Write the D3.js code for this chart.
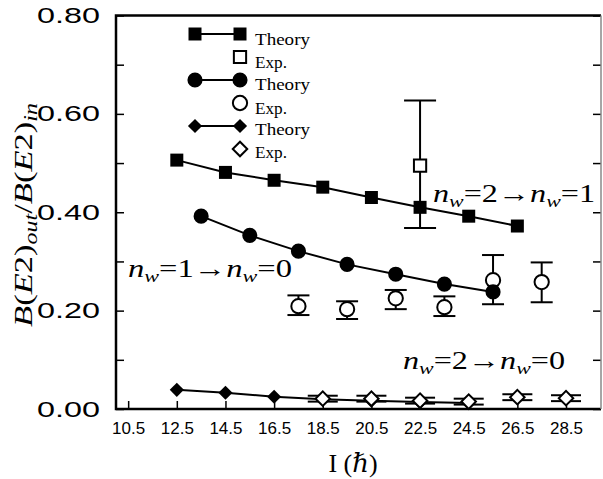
<!DOCTYPE html>
<html>
<head>
<meta charset="utf-8">
<script src="https://cdn.jsdelivr.net/npm/d3@7"></script>
<style>
  body { margin: 0; background: #fff; }
  svg { display: block; }
  .tick line { stroke: #000; stroke-width: 1.5; }
</style>
</head>
<body>
<div id="chart"></div>
<script>
// spins (hbar) and B(E2) ratios
const sqTheorySpin = [12.5, 14.5, 16.5, 18.5, 20.5, 22.5, 24.5, 26.5];
const sqTheory = [0.506, 0.481, 0.465, 0.451, 0.430, 0.410, 0.392, 0.372];
const sqExpSpin = [22.5];
const sqExp = [0.495];
const sqExpLo = [0.368];
const sqExpHi = [0.627];

const ciTheorySpin = [13.5, 15.5, 17.5, 19.5, 21.5, 23.5, 25.5];
const ciTheory = [0.392, 0.353, 0.321, 0.294, 0.274, 0.254, 0.238];
const ciExpSpin = [17.5, 19.5, 21.5, 23.5, 25.5, 27.5];
const ciExp = [0.209, 0.203, 0.225, 0.207, 0.262, 0.258];
const ciExpLo = [0.191, 0.183, 0.203, 0.189, 0.213, 0.217];
const ciExpHi = [0.231, 0.219, 0.242, 0.229, 0.313, 0.298];

const diTheorySpin = [12.5, 14.5, 16.5, 18.5, 20.5, 22.5, 24.5];
const diTheory = [0.039, 0.033, 0.025, 0.020, 0.017, 0.014, 0.012];
const diExpSpin = [18.5, 20.5, 22.5, 24.5, 26.5, 28.5];
const diExp = [0.021, 0.021, 0.017, 0.015, 0.024, 0.022];
const diExpLo = [0.015, 0.015, 0.011, 0.009, 0.018, 0.016];
const diExpHi = [0.027, 0.027, 0.023, 0.021, 0.030, 0.028];

const xTicks = [10.5, 12.5, 14.5, 16.5, 18.5, 20.5, 22.5, 24.5, 26.5, 28.5];
const yTicks = [0, 0.1, 0.2, 0.3, 0.4, 0.5, 0.6, 0.7, 0.8];

const width = 603, height = 479;
const plot = { left: 116, right: 601, top: 15.5, bottom: 409 };
const serif = "'Liberation Serif', 'DejaVu Serif', serif";
const sans = "'Liberation Sans', Arial, sans-serif";

const svg = d3.select('#chart').append('svg')
    .attr('width', width)
    .attr('height', height);

const xScale = d3.scaleLinear().domain([10, 30]).range([plot.left, plot.right + 1.5]);
const yScale = d3.scaleLinear().domain([0, 0.8]).range([plot.bottom, plot.top]);

// axes with inward ticks
const xAxis = svg.append('g')
    .attr('transform', `translate(0, ${plot.bottom})`)
    .call(d3.axisBottom(xScale).tickValues(xTicks).tickSize(-8).tickPadding(13).tickFormat(d3.format('.1f')));
xAxis.select('.domain').remove();
xAxis.selectAll('text').attr('font-family', sans).attr('font-size', 17).attr('fill', '#000');

const yAxis = svg.append('g')
    .attr('transform', `translate(${plot.left}, 0)`)
    .call(d3.axisLeft(yScale).tickValues(yTicks).tickSize(-8).tickPadding(16)
        .tickFormat((d) => Math.round(d * 10) % 2 === 0 ? d.toFixed(2) : ''));
yAxis.select('.domain').remove();
yAxis.selectAll('text')
    .attr('font-family', sans).attr('font-size', 22).attr('fill', '#000')
    .attr('textLength', 63).attr('lengthAdjust', 'spacingAndGlyphs');

const yAxisR = svg.append('g')
    .attr('transform', `translate(${plot.right}, 0)`)
    .call(d3.axisRight(yScale).tickValues(yTicks).tickSize(-8).tickFormat(''));
yAxisR.select('.domain').remove();

// frame
svg.append('path')
    .attr('d', `M${plot.right},${plot.top}H${plot.left}V${plot.bottom}H${plot.right}`)
    .attr('fill', 'none').attr('stroke', '#000').attr('stroke-width', 2.5);
svg.append('line')
    .attr('x1', plot.right).attr('x2', plot.right)
    .attr('y1', plot.top).attr('y2', plot.bottom)
    .attr('stroke', '#888').attr('stroke-width', 1.5);

const sym = {
    square: d3.symbol(d3.symbolSquare, 169)(),
    openSquare: d3.symbol(d3.symbolSquare, 150)(),
    circle: d3.symbol(d3.symbolCircle, 180)(),
    openCircle: d3.symbol(d3.symbolCircle, 160)(),
    diamond: d3.symbol(d3.symbolSquare, 100)(),
    openDiamond: d3.symbol(d3.symbolSquare, 105)(),
};
const rot = { square: 0, openSquare: 0, circle: 0, openCircle: 0, diamond: 45, openDiamond: 45 };

const line = d3.line().x((d) => xScale(d[0])).y((d) => yScale(d[1]));

function drawTheory(spins, vals, shape) {
    const pts = d3.zip(spins, vals);
    svg.append('path').datum(pts)
        .attr('d', line)
        .attr('fill', 'none').attr('stroke', '#000').attr('stroke-width', 2);
    svg.append('g').selectAll('path')
        .data(pts).join('path')
        .attr('d', sym[shape])
        .attr('transform', (d) => `translate(${xScale(d[0])},${yScale(d[1])}) rotate(${rot[shape]})`)
        .attr('fill', '#000');
}

function drawExp(spins, vals, lo, hi, shape, capHalf) {
    const pts = spins.map((s, i) => ({ s, v: vals[i], lo: lo[i], hi: hi[i] }));
    const g = svg.append('g').attr('stroke', '#000').attr('stroke-width', 2);
    g.selectAll('line.bar').data(pts).join('line')
        .attr('x1', (d) => xScale(d.s)).attr('x2', (d) => xScale(d.s))
        .attr('y1', (d) => yScale(d.lo)).attr('y2', (d) => yScale(d.hi));
    ['lo', 'hi'].forEach((k) => {
        g.selectAll('line.' + k).data(pts).join('line')
            .attr('x1', (d) => xScale(d.s) - capHalf).attr('x2', (d) => xScale(d.s) + capHalf)
            .attr('y1', (d) => yScale(d[k])).attr('y2', (d) => yScale(d[k]));
    });
    g.selectAll('path').data(pts).join('path')
        .attr('d', sym[shape])
        .attr('transform', (d) => `translate(${xScale(d.s)},${yScale(d.v)}) rotate(${rot[shape]})`)
        .attr('fill', '#fff');
}

drawTheory(diTheorySpin, diTheory, 'diamond');
drawExp(diExpSpin, diExp, diExpLo, diExpHi, 'openDiamond', 15);
drawTheory(sqTheorySpin, sqTheory, 'square');
drawExp(sqExpSpin, sqExp, sqExpLo, sqExpHi, 'openSquare', 16);
drawExp(ciExpSpin, ciExp, ciExpLo, ciExpHi, 'openCircle', 11);
drawTheory(ciTheorySpin, ciTheory, 'circle');

// legend
const legendRows = [
    { y: 34, shape: 'square', label: 'Theory', ty: 45 },
    { y: 57, shape: 'openSquare', label: 'Exp.', ty: 68 },
    { y: 80, shape: 'circle', label: 'Theory', ty: 90 },
    { y: 103, shape: 'openCircle', label: 'Exp.', ty: 114 },
    { y: 126, shape: 'diamond', label: 'Theory', ty: 135 },
    { y: 149, shape: 'openDiamond', label: 'Exp.', ty: 158 },
];
const leg = svg.append('g');
legendRows.forEach((r) => {
    const open = r.shape.startsWith('open');
    if (!open) {
        leg.append('line').attr('x1', 195).attr('x2', 240).attr('y1', r.y).attr('y2', r.y)
            .attr('stroke', '#000').attr('stroke-width', 2);
        leg.append('path').attr('d', sym[r.shape])
            .attr('transform', `translate(195,${r.y}) rotate(${rot[r.shape]})`).attr('fill', '#000');
    }
    leg.append('path').attr('d', sym[r.shape])
        .attr('transform', `translate(240,${r.y}) rotate(${rot[r.shape]})`)
        .attr('fill', open ? '#fff' : '#000')
        .attr('stroke', open ? '#000' : 'none').attr('stroke-width', 2);
    leg.append('text').attr('x', 255).attr('y', r.ty)
        .attr('font-family', serif).attr('font-size', 17)
        .attr('textLength', r.label === 'Theory' ? 55 : 32).attr('lengthAdjust', 'spacingAndGlyphs')
        .text(r.label);
});

// transition labels
function nwLabel(x, y, a, b, len) {
    const t = svg.append('text').attr('x', x).attr('y', y)
        .attr('font-family', serif).attr('font-size', 25)
        .attr('textLength', len).attr('lengthAdjust', 'spacingAndGlyphs');
    t.append('tspan').attr('font-style', 'italic').text('n');
    t.append('tspan').attr('font-style', 'italic').attr('font-size', 17).attr('dy', 5).text('w');
    t.append('tspan').attr('dy', -5).text(`=${a}\u2192`);
    t.append('tspan').attr('font-style', 'italic').text('n');
    t.append('tspan').attr('font-style', 'italic').attr('font-size', 17).attr('dy', 5).text('w');
    t.append('tspan').attr('dy', -5).text(`=${b}`);
}
nwLabel(433, 202, 2, 1, 162);
nwLabel(128, 277, 1, 0, 164);
nwLabel(403, 369, 2, 0, 162);

// axis titles
svg.append('text')
    .attr('x', 353).attr('y', 472).attr('text-anchor', 'middle')
    .attr('font-family', serif).attr('font-size', 26)
    .text('I (\u210F)');

const yt = svg.append('text')
    .attr('transform', 'translate(32,215) rotate(-90)')
    .attr('text-anchor', 'middle')
    .attr('font-family', serif).attr('font-size', 26)
    .attr('textLength', 224).attr('lengthAdjust', 'spacingAndGlyphs');
yt.append('tspan').attr('font-style', 'italic').text('B');
yt.append('tspan').text('(');
yt.append('tspan').attr('font-style', 'italic').text('E');
yt.append('tspan').text('2)');
yt.append('tspan').attr('font-style', 'italic').attr('font-size', 18).attr('dy', 5).text('out');
yt.append('tspan').attr('dy', -5).text('/');
yt.append('tspan').attr('font-style', 'italic').text('B');
yt.append('tspan').text('(');
yt.append('tspan').attr('font-style', 'italic').text('E');
yt.append('tspan').text('2)');
yt.append('tspan').attr('font-style', 'italic').attr('font-size', 18).attr('dy', 5).text('in');
</script>
</body>
</html>
